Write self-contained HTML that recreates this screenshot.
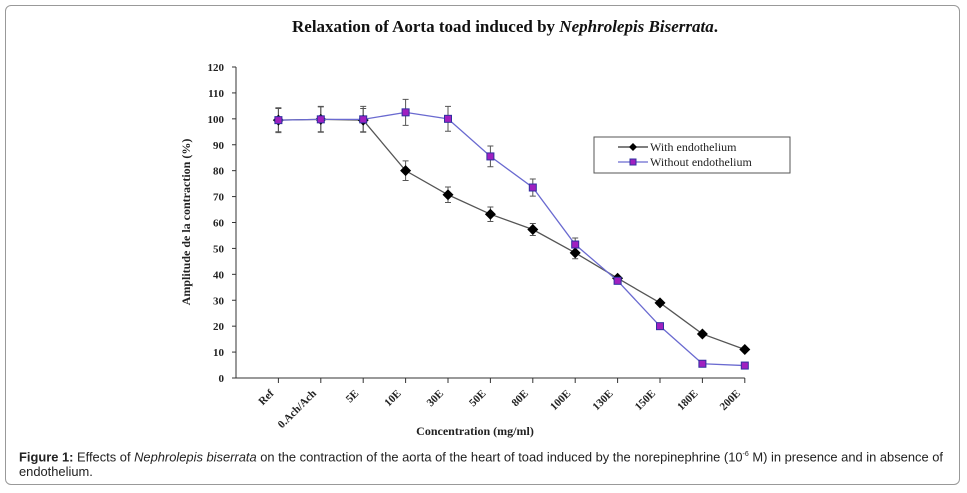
<!DOCTYPE html>
<html><head><meta charset="utf-8"><style>
body{margin:0;background:#fff;width:967px;height:493px;overflow:hidden;position:relative;font-family:"Liberation Sans",sans-serif}
#frame{position:absolute;left:5px;top:5px;width:955px;height:480px;border:1px solid #999;border-radius:6px;box-sizing:border-box}
#cap{position:absolute;left:19px;top:447px;width:940px;font-size:12.9px;line-height:15px;color:#222}
</style></head><body>
<div id="frame"></div>
<svg id="chart" width="967" height="445" style="position:absolute;left:0;top:0" font-family="'Liberation Serif',serif"></svg>
<div id="cap"><b>Figure 1:</b> Effects of <i>Nephrolepis biserrata</i> on the contraction of the aorta of the heart of toad induced by the norepinephrine (10<sup style="font-size:7px">-6</sup> M) in presence and in absence of endothelium.</div>
<script>
const categories=["Ref","0.Ach/Ach","5E","10E","30E","50E","80E","100E","130E","150E","180E","200E"];
const withEndo=[99.5,99.8,99.5,80,70.7,63.2,57.3,48.3,38.5,29,17,11];
const withErr=[4.5,4.8,4.5,3.8,3,2.8,2.3,2.3,0,0,0,0];
const withoutEndo=[99.5,99.8,99.8,102.5,100,85.5,73.5,51.5,37.5,20,5.5,4.8];
const withoutErr=[4.8,5,5,5,4.8,4,3.3,2.5,0,0,0,0];
const yTicks=[0,10,20,30,40,50,60,70,80,90,100,110,120];
const NS="http://www.w3.org/2000/svg";
const svg=document.getElementById('chart');
const x0=236,step=42.4,yb=378,yt=67;
const X=i=>x0+step*(i+1);
const Y=v=>yb-(v/120)*(yb-yt);
function mk(t,a,p){const e=document.createElementNS(NS,t);for(const k in a)e.setAttribute(k,a[k]);(p||svg).appendChild(e);return e;}
let t=mk('text',{x:505,y:32,'text-anchor':'middle','font-size':17,'font-weight':'bold',fill:'#111'});


t.innerHTML='Relaxation of Aorta toad induced by <tspan font-style="italic">Nephrolepis Biserrata</tspan>.';
let ax=mk('path',{d:`M${x0} ${yt}V${yb}H${X(11)}`,stroke:'#333','stroke-width':1,fill:'none'});


yTicks.forEach(v=>{mk('line',{x1:x0-4,x2:x0,y1:Y(v),y2:Y(v),stroke:'#333'});
 const l=mk('text',{x:x0-12,y:Y(v)+4,'text-anchor':'end','font-size':11,'font-weight':'bold',fill:'#222'});
 
 
 l.textContent=v;});
categories.forEach((c,i)=>{mk('line',{x1:X(i),x2:X(i),y1:yb,y2:yb+5,stroke:'#333'});
 const l=mk('text',{x:X(i)-4,y:yb+16,'text-anchor':'end','font-size':11,'font-weight':'bold',fill:'#222',transform:`rotate(-45 ${X(i)-4} ${yb+16})`});
 
 
 l.textContent=c;});
let yl=mk('text',{x:190,y:222,'text-anchor':'middle','font-size':12,'font-weight':'bold',fill:'#222',transform:'rotate(-90 190 222)'});


yl.textContent='Amplitude de la contraction  (%)';
let xl=mk('text',{x:475,y:435,'text-anchor':'middle','font-size':12,'font-weight':'bold',fill:'#222'});


xl.textContent='Concentration (mg/ml)';
function errs(vals,er){vals.forEach((v,i)=>{if(!er[i])return;const x=X(i);
 const g=mk('path',{d:`M${x} ${Y(v-er[i])}V${Y(v+er[i])}M${x-3} ${Y(v-er[i])}h6M${x-3} ${Y(v+er[i])}h6`,stroke:'#555','stroke-width':1,fill:'none'});
 
 });}
errs(withEndo,withErr);errs(withoutEndo,withoutErr);
let l1=mk('polyline',{points:withEndo.map((v,i)=>X(i)+','+Y(v)).join(' '),stroke:'#555','stroke-width':1.3,fill:'none'});


withEndo.forEach((v,i)=>{const p=mk('path',{d:`M${X(i)} ${Y(v)-5.5}l5.5 5.5l-5.5 5.5l-5.5 -5.5z`,fill:'#000'});
 
 });
let l2=mk('polyline',{points:withoutEndo.map((v,i)=>X(i)+','+Y(v)).join(' '),stroke:'#6a6ad0','stroke-width':1.3,fill:'none'});


withoutEndo.forEach((v,i)=>{const p=mk('rect',{x:X(i)-3.5,y:Y(v)-3.5,width:7,height:7,fill:'#a020c0',stroke:'#3030a0','stroke-width':1});
 
 });
const lg=mk('g',{});


mk('rect',{x:594,y:137,width:196,height:36,fill:'#fff',stroke:'#555'},lg);
mk('line',{x1:618,x2:648,y1:147,y2:147,stroke:'#333','stroke-width':1.3},lg);
mk('path',{d:'M633 143l4 4l-4 4l-4 -4z',fill:'#000'},lg);
let e1=mk('text',{x:650,y:151,'font-size':12,fill:'#222'},lg);e1.textContent='With endothelium';


mk('line',{x1:618,x2:648,y1:162,y2:162,stroke:'#6a6ad0','stroke-width':1.3},lg);
mk('rect',{x:630,y:159,width:6,height:6,fill:'#a020c0',stroke:'#3030a0'},lg);
let e2=mk('text',{x:650,y:166,'font-size':12,fill:'#222'},lg);e2.textContent='Without endothelium';


</script>
</body></html>
